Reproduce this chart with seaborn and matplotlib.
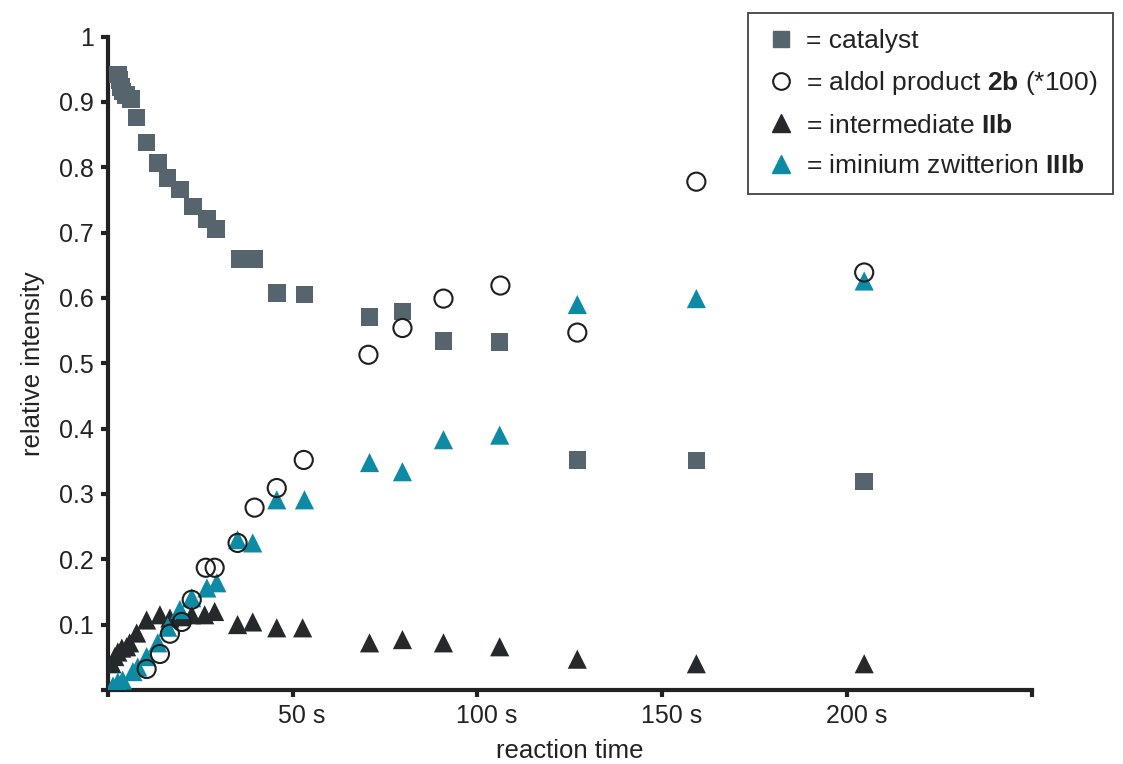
import matplotlib
matplotlib.use("Agg")
import matplotlib.pyplot as plt
import seaborn as sns
from matplotlib.lines import Line2D
from matplotlib.transforms import ScaledTranslation

# catalyst (squares)
cat_t = [2.7, 3.2, 3.5, 4.0, 4.9, 6.2, 7.8, 10.5, 13.5, 16.2, 19.5, 23.0, 26.8,
         29.2, 35.7, 39.7, 45.7, 53.2, 70.8, 79.7, 90.8, 106.0, 127.0, 159.2, 204.6]
cat_y = [0.942, 0.934, 0.923, 0.916, 0.911, 0.905, 0.876, 0.838, 0.807, 0.784,
         0.766, 0.740, 0.721, 0.706, 0.660, 0.660, 0.608, 0.605, 0.571, 0.579,
         0.534, 0.533, 0.352, 0.351, 0.319]

# aldol product 2b (*100) (open circles)
ald_t = [10.5, 14.1, 16.8, 20.0, 22.7, 26.5, 28.9, 35.1, 39.7, 45.7, 53.0,
         70.5, 79.7, 90.8, 106.2, 127.0, 159.2, 204.6]
ald_y = [0.032, 0.055, 0.086, 0.104, 0.138, 0.187, 0.187, 0.225, 0.279, 0.309,
         0.352, 0.513, 0.554, 0.599, 0.619, 0.547, 0.778, 0.639]

# intermediate IIb (dark triangles)
int_t = [1.1, 1.9, 2.7, 3.8, 5.1, 5.9, 7.8, 10.5, 14.1, 16.8, 20.0, 22.7, 26.2,
         28.9, 35.1, 39.2, 45.7, 52.7, 70.8, 79.7, 90.8, 106.0, 127.0, 159.2, 204.6]
int_y = [0.040, 0.051, 0.058, 0.064, 0.066, 0.072, 0.087, 0.107, 0.115, 0.110,
         0.112, 0.115, 0.115, 0.120, 0.100, 0.104, 0.095, 0.095, 0.072, 0.077,
         0.072, 0.066, 0.047, 0.040, 0.040]

# iminium zwitterion IIIb (teal triangles)
imi_t = [1.4, 2.7, 4.0, 6.8, 8.1, 10.5, 13.5, 16.2, 19.5, 22.7, 26.8, 29.5,
         35.1, 39.2, 45.7, 53.2, 70.8, 79.7, 90.8, 106.0, 127.0, 159.2, 204.6]
imi_y = [0.006, 0.012, 0.015, 0.028, 0.035, 0.051, 0.072, 0.096, 0.123, 0.141,
         0.156, 0.164, 0.230, 0.225, 0.291, 0.291, 0.348, 0.334, 0.383, 0.390,
         0.590, 0.599, 0.626]

x_ticks = [0, 50, 100, 150, 200, 250]
x_labels = ["", "50 s", "100 s", "150 s", "200 s", ""]
y_ticks = [0, 0.1, 0.2, 0.3, 0.4, 0.5, 0.6, 0.7, 0.8, 0.9, 1.0]
y_labels = ["", "0.1", "0.2", "0.3", "0.4", "0.5", "0.6", "0.7", "0.8", "0.9", "1"]

c_cat = "#56646d"
c_int = "#25292c"
c_imi = "#0e8ba4"
c_txt = "#222222"

sns.set_style("ticks")
plt.rcParams["font.family"] = ["Liberation Sans", "DejaVu Sans"]
plt.rcParams["mathtext.fontset"] = "custom"
plt.rcParams["mathtext.rm"] = "Liberation Sans"
plt.rcParams["mathtext.bf"] = "Liberation Sans:bold"

fig = plt.figure(figsize=(11.23, 7.64), dpi=100)
ax = fig.add_axes([0.096, 0.097, 0.823, 0.855])

sns.scatterplot(x=cat_t, y=cat_y, marker="s", s=160, color=c_cat,
                edgecolor="none", ax=ax, zorder=3)
sns.scatterplot(x=int_t, y=int_y, marker="^", s=190, color=c_int,
                edgecolor="none", ax=ax, zorder=4)
sns.scatterplot(x=imi_t, y=imi_y, marker="^", s=190, color=c_imi,
                edgecolor="none", ax=ax, zorder=5)
sns.scatterplot(x=ald_t, y=ald_y, marker="o", s=170, facecolor="none",
                edgecolor="#1e1e1e", linewidth=1.5, ax=ax, zorder=6)

ax.set_xlim(0, 250)
ax.set_ylim(0, 1)
ax.set_xticks(x_ticks)
ax.set_xticklabels(x_labels)
ax.set_yticks(y_ticks)
ax.set_yticklabels(y_labels)
ax.tick_params(axis="both", direction="out", length=5, width=3,
               labelsize=18, color=c_txt, labelcolor=c_txt, pad=5)
# "50" sits over the tick, the unit hangs to the right
for lbl in ax.get_xticklabels():
    lbl.set_transform(lbl.get_transform() + ScaledTranslation(0.09, 0, fig.dpi_scale_trans))
for side in ["top", "right"]:
    ax.spines[side].set_visible(False)
for side in ["left", "bottom"]:
    ax.spines[side].set_linewidth(3)
    ax.spines[side].set_color(c_txt)

ax.set_xlabel("reaction time", fontsize=18.5, color=c_txt, labelpad=8)
ax.set_ylabel("relative intensity", fontsize=18.5, color=c_txt, labelpad=10)

handles = [
    Line2D([], [], marker="s", color=c_cat, linestyle="none", markersize=12),
    Line2D([], [], marker="o", markerfacecolor="none", markeredgecolor="#1e1e1e",
           markeredgewidth=1.5, linestyle="none", markersize=12),
    Line2D([], [], marker="^", color=c_int, linestyle="none", markersize=13),
    Line2D([], [], marker="^", color=c_imi, linestyle="none", markersize=13),
]
labels = [
    "= catalyst",
    r"= aldol product $\mathbf{2b}$ (*100)",
    r"= intermediate $\mathbf{IIb}$",
    r"= iminium zwitterion $\mathbf{IIIb}$",
]
leg = fig.legend(handles, labels, loc="upper left",
                 bbox_to_anchor=(748 / 1123, 1 - 13 / 764), fontsize=19,
                 frameon=True, fancybox=False, edgecolor=c_txt,
                 borderpad=0.6, labelspacing=0.62, handletextpad=0.3,
                 borderaxespad=0, handlelength=1.3)
leg.get_frame().set_linewidth(1.4)
for t in leg.get_texts():
    t.set_color(c_txt)

plt.savefig("out.png", dpi=100)
